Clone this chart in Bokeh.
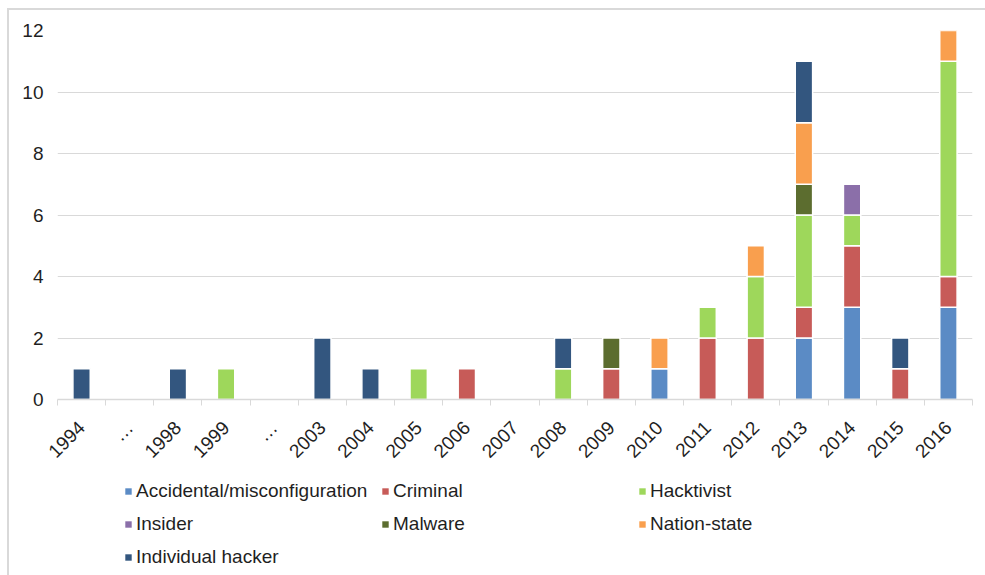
from bokeh.plotting import figure
from bokeh.layouts import column
from bokeh.models import (ColumnDataSource, FixedTicker, Legend, LegendItem,
                          Range1d)
from bokeh.embed import file_html
from bokeh.resources import INLINE

# Incidents per year, by actor type
tick_labels = ["1994", "…", "1998", "1999", "…", "2003", "2004", "2005", "2006",
               "2007", "2008", "2009", "2010", "2011", "2012", "2013", "2014",
               "2015", "2016"]

accidental = [0, 0, 0, 0, 0, 0, 0, 0, 0, 0, 0, 0, 1, 0, 0, 2, 3, 0, 3]
criminal   = [0, 0, 0, 0, 0, 0, 0, 0, 1, 0, 0, 1, 0, 2, 2, 1, 2, 1, 1]
hacktivist = [0, 0, 0, 1, 0, 0, 0, 1, 0, 0, 1, 0, 0, 1, 2, 3, 1, 0, 7]
insider    = [0, 0, 0, 0, 0, 0, 0, 0, 0, 0, 0, 0, 0, 0, 0, 0, 1, 0, 0]
malware    = [0, 0, 0, 0, 0, 0, 0, 0, 0, 0, 0, 1, 0, 0, 0, 1, 0, 0, 0]
nation     = [0, 0, 0, 0, 0, 0, 0, 0, 0, 0, 0, 0, 1, 0, 1, 2, 0, 0, 1]
individual = [1, 0, 1, 0, 0, 2, 1, 0, 0, 0, 1, 0, 0, 0, 0, 2, 0, 1, 0]

series_names = ["Accidental/misconfiguration", "Criminal", "Hacktivist",
                "Insider", "Malware", "Nation-state", "Individual hacker"]
series_values = [accidental, criminal, hacktivist, insider, malware, nation,
                 individual]
colors = ["#5b8bc5", "#c75b58", "#9ed75b", "#8b6fa9", "#5c6d2f", "#f99f4e",
          "#33567f"]

TEXT = "#1f1f1f"
GRID = "#d9d9d9"
FONT = "Liberation Sans"

keys = ["s%d" % i for i in range(len(series_names))]
n = len(tick_labels)
centers = [i + 0.5 for i in range(n)]

data = {"x": centers}
for k, vals in zip(keys, series_values):
    data[k] = vals
    # hide the white outline of empty segments
    data["la_" + k] = [1.0 if v > 0 else 0.0 for v in vals]
source = ColumnDataSource(data)

# ---- stacked bar chart ----
p = figure(width=976, height=464, output_backend="svg", toolbar_location=None,
           x_range=Range1d(0, n), y_range=Range1d(0, 12),
           min_border_left=48, min_border_right=13, min_border_top=20,
           min_border_bottom=75)
p.outline_line_color = None
p.background_fill_color = "white"
p.border_fill_color = "white"

p.vbar_stack(keys, x="x", width=0.36, source=source,
             fill_color=colors, line_color="white", line_width=1.5,
             line_alpha=["la_" + k for k in keys])

p.xaxis.ticker = FixedTicker(ticks=centers, minor_ticks=list(range(n + 1)))
p.xaxis.major_label_overrides = {c: lab for c, lab in zip(centers, tick_labels)}
p.xaxis.major_label_orientation = 0.785398
p.xaxis.major_tick_line_color = None
p.xaxis.major_tick_out = 0
p.xaxis.minor_tick_in = 0
p.xaxis.minor_tick_out = 6
p.xaxis.minor_tick_line_color = GRID
p.xaxis.axis_line_color = GRID
p.xaxis.axis_line_width = 1.5
p.xaxis.major_label_standoff = 19
p.xaxis.major_label_text_font = FONT
p.xaxis.major_label_text_font_size = "19px"
p.xaxis.major_label_text_color = TEXT

p.yaxis.ticker = FixedTicker(ticks=[0, 2, 4, 6, 8, 10, 12])
p.yaxis.axis_line_color = None
p.yaxis.major_tick_line_color = None
p.yaxis.minor_tick_line_color = None
p.yaxis.major_tick_out = 0
p.yaxis.major_label_standoff = 14
p.yaxis.major_label_text_font = FONT
p.yaxis.major_label_text_font_size = "19px"
p.yaxis.major_label_text_color = TEXT

p.xgrid.grid_line_color = None
p.ygrid.grid_line_color = GRID
p.ygrid.grid_line_width = 1.2

# ---- legend strip below the chart ----
# same stacks, with a y window above every bar, so only the key shows
lf = figure(width=976, height=101, output_backend="svg", toolbar_location=None,
            x_range=Range1d(0, n), y_range=Range1d(100, 101),
            min_border=0, min_border_left=0, min_border_right=0,
            min_border_top=0, min_border_bottom=0)
lf.axis.visible = False
lf.grid.visible = False
lf.outline_line_color = None
lf.border_fill_color = "white"
lf.background_fill_color = "white"

swatches = lf.vbar_stack(keys, x="x", width=0.36, source=source,
                         fill_color=colors, line_color="white", line_width=1,
                         line_alpha=0)

legend = Legend(
    items=[LegendItem(label=name, renderers=[r])
           for name, r in zip(series_names, swatches)],
    location=(67, 7), orientation="horizontal", ncols=3,
    glyph_width=8, glyph_height=8, label_standoff=4, label_width=235,
    label_height=23, spacing=10, padding=0, margin=0,
    border_line_color=None, background_fill_alpha=0,
    label_text_font=FONT, label_text_font_size="19px",
    label_text_color=TEXT,
)
lf.add_layout(legend, "center")

page = column(p, lf, spacing=0)
page.styles = {"margin-left": "7px", "margin-top": "8px",
               "border-left": "2px solid " + GRID,
               "border-top": "2px solid " + GRID}

open("out.html", "w").write(file_html(page, INLINE))
